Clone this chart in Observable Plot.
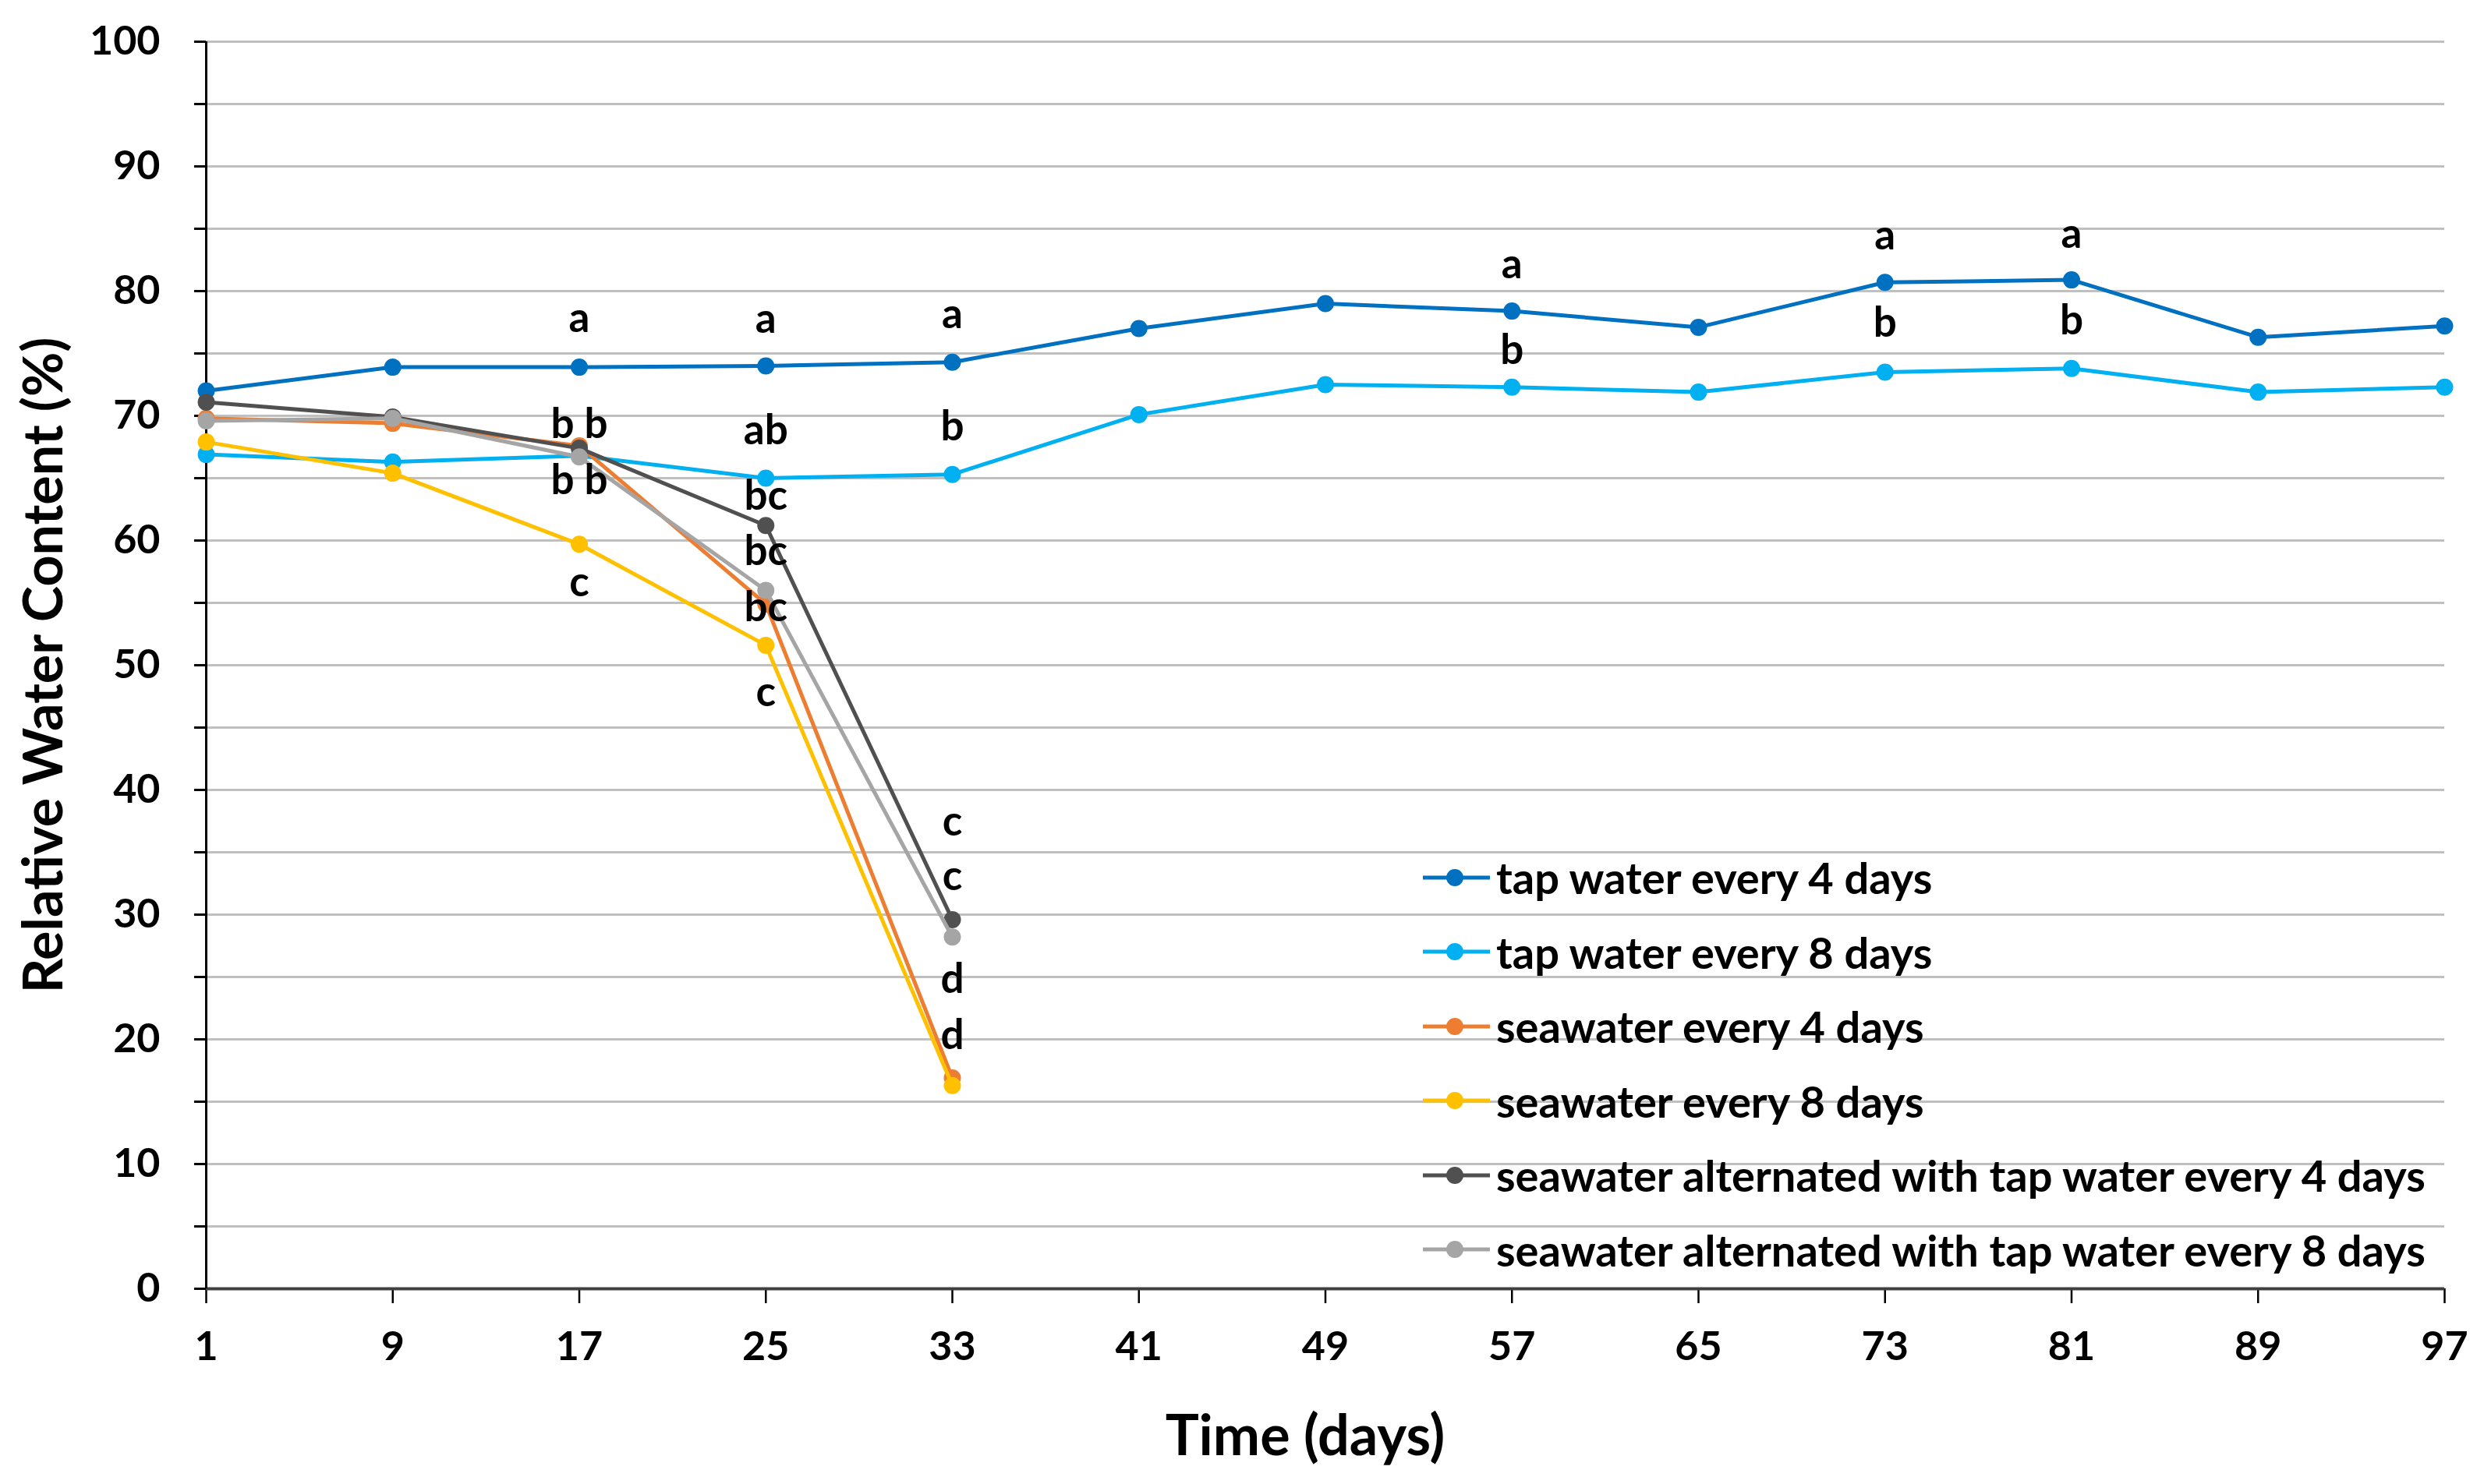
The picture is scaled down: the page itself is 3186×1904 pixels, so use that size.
<!DOCTYPE html>
<html>
<head>
<meta charset="utf-8">
<script src="https://cdn.jsdelivr.net/npm/d3@7"></script>
<script src="https://cdn.jsdelivr.net/npm/@observablehq/plot@0.6"></script>
<style>
  html, body { margin: 0; padding: 0; background: #fff; }
  #wrap { position: relative; width: 3186px; height: 1904px; font-family: Lato, "Open Sans", sans-serif; font-weight: 700; }
  #legend { position: absolute; left: 1825px; top: 1078px; }
  .row { display: flex; align-items: center; height: 95.5px; font-size: 56px; color: #000; white-space: nowrap; }
  .row svg { margin-right: 8px; flex: none; }
</style>
</head>
<body>
<div id="wrap"><div id="legend"></div></div>
<script>
// ---- data ----
const days = [1, 9, 17, 25, 33, 41, 49, 57, 65, 73, 81, 89, 97];
const seriesNames = [
  "tap water every 4 days",
  "tap water every 8 days",
  "seawater every 4 days",
  "seawater every 8 days",
  "seawater alternated with tap water every 4 days",
  "seawater alternated with tap water every 8 days"
];
const seriesColors = ["#0070C0", "#00B0F0", "#ED7D31", "#FFC000", "#505050", "#A5A5A5"];
const tap4 = [72.0, 73.9, 73.9, 74.0, 74.3, 77.0, 79.0, 78.4, 77.1, 80.7, 80.9, 76.3, 77.2];
const tap8 = [66.9, 66.3, 66.8, 65.0, 65.3, 70.1, 72.5, 72.3, 71.9, 73.5, 73.8, 71.9, 72.3];
const sea4 = [69.8, 69.4, 67.6, 54.9, 16.9];
const sea8 = [67.9, 65.4, 59.7, 51.6, 16.3];
const alt4 = [71.1, 69.9, 67.4, 61.2, 29.6];
const alt8 = [69.6, 69.8, 66.7, 56.0, 28.2];

// significance letters (day, position in % units, text)
const letterDays  = [17, 17, 17, 17, 25, 25, 25, 25, 25, 25, 33, 33, 33, 33, 33, 33, 57, 57, 73, 73, 81, 81];
const letterY     = [77.8, 69.3, 64.8, 56.6, 77.7, 68.8, 63.5, 59.1, 54.6, 47.8, 78.1, 69.1, 37.4, 33.0, 24.8, 20.3, 82.1, 75.2, 84.4, 77.4, 84.5, 77.6];
const letterText  = ["a", "b b", "b b", "c", "a", "ab", "bc", "bc", "bc", "c", "a", "b", "c", "c", "d", "d", "a", "b", "a", "b", "a", "b"];

const yTicks = d3.range(0, 101, 5);
const xTitle = "Time (days)";
const yTitle = "Relative Water Content (%)";

// ---- build tables ----
const seriesValues = [tap4, tap8, sea4, sea8, alt4, alt8];
const series = seriesNames.map((name, i) => ({
  name, color: seriesColors[i],
  points: seriesValues[i].map((v, j) => ({day: days[j], value: v, name}))
}));
const letters = letterText.map((t, i) => ({day: letterDays[i], y: letterY[i], text: t}));

const seriesMarks = series.flatMap(s => [
  Plot.line(s.points, {x: "day", y: "value", stroke: s.color, strokeWidth: 5, strokeLinejoin: "round"}),
  Plot.dot(s.points, {x: "day", y: "value", r: 11, fill: s.color, stroke: "none"})
]);

const chart = Plot.plot({
  width: 3186,
  height: 1904,
  marginTop: 53,
  marginBottom: 251,
  marginLeft: 264,
  marginRight: 51,
  style: {fontFamily: "Lato, 'Open Sans', sans-serif", fontWeight: 700, background: "#fff", color: "#000"},
  x: {domain: [1, 97]},
  y: {domain: [0, 100]},
  marks: [
    Plot.ruleY(yTicks.filter(d => d > 0), {stroke: "#C0C0C0", strokeWidth: 3}),
    Plot.axisY({ticks: yTicks, tickFormat: d => d % 10 === 0 ? String(d) : "", tickSize: 15, tickPadding: 44,
                fontSize: 52, strokeWidth: 3, stroke: "#000", label: null}),
    Plot.axisX({ticks: days, tickFormat: d => String(d), tickSize: 19, tickPadding: 36,
                fontSize: 52, strokeWidth: 2.5, stroke: "#000", label: null}),
    Plot.ruleY([0], {stroke: "#404040", strokeWidth: 4}),
    Plot.ruleX([1], {stroke: "#000", strokeWidth: 3}),
    ...seriesMarks,
    Plot.text(letters, {x: "day", y: "y", text: "text", fontSize: 53, fontWeight: 700, fill: "#000", lineAnchor: "middle"}),
    Plot.text([yTitle], {frameAnchor: "left", dx: -207, rotate: -90, textAnchor: "middle", lineAnchor: "middle",
                         fontSize: 70, fontWeight: 700, fill: "#000"}),
    Plot.text([xTitle], {frameAnchor: "bottom", dy: 190, dx: -26, textAnchor: "middle", lineAnchor: "middle",
                         fontSize: 72, fontWeight: 700, fill: "#000"})
  ]
});
const wrap = document.getElementById("wrap");
wrap.insertBefore(chart, wrap.firstChild);

// legend overlay
const legend = document.getElementById("legend");
series.forEach(s => {
  const row = document.createElement("div");
  row.className = "row";
  row.innerHTML = `<svg width="86" height="30" viewBox="0 0 86 30"><line x1="0" y1="15" x2="86" y2="15" stroke="${s.color}" stroke-width="5"/><circle cx="41" cy="15" r="11" fill="${s.color}"/></svg><span>${s.name}</span>`;
  legend.appendChild(row);
});
</script>
</body>
</html>
